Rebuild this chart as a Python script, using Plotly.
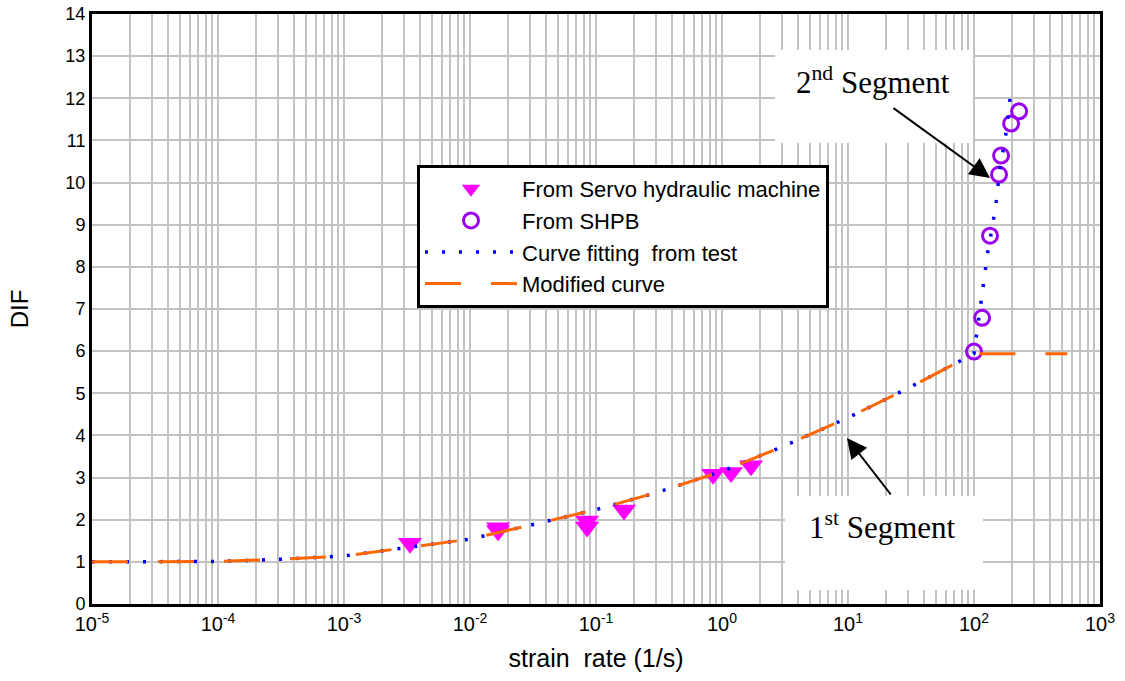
import plotly.graph_objects as go

# ---- data ----
servo_rate = [0.00334, 0.0167, 0.0167, 0.085, 0.085, 0.167, 0.85, 1.18, 1.70]
servo_dif = [1.44, 1.81, 1.74, 1.97, 1.83, 2.23, 3.08, 3.12, 3.28]

shpb_rate = [100, 116, 134, 158, 164, 197, 228]
shpb_dif = [5.99, 6.79, 8.74, 10.19, 10.64, 11.40, 11.69]

fit1_rate = [1e-5, 3e-5, 1e-4, 3e-4, 1e-3, 3e-3, 1e-2, 3e-2, 1e-1, 3e-1, 1, 3, 10, 30, 100]
fit1_dif = [1.00, 1.00, 1.01, 1.06, 1.14, 1.33, 1.54, 1.87, 2.24, 2.64, 3.15, 3.73, 4.42, 5.12, 5.94]

fit2_rate = [100, 110, 120, 130, 140, 150, 160, 170, 180, 190, 197]
fit2_dif = [5.94, 6.85, 7.65, 8.45, 8.95, 9.55, 10.3, 10.75, 11.2, 11.8, 12.2]

mod_flat_rate = [550]
mod_flat_dif = [5.94]

x_tickvals = [1e-5, 1e-4, 1e-3, 1e-2, 1e-1, 1e0, 1e1, 1e2, 1e3]
x_ticktext = ["10<sup>-5</sup>", "10<sup>-4</sup>", "10<sup>-3</sup>", "10<sup>-2</sup>",
              "10<sup>-1</sup>", "10<sup>0</sup>", "10<sup>1</sup>", "10<sup>2</sup>", "10<sup>3</sup>"]
y_tickvals = list(range(0, 15))

fit_rate = fit1_rate + fit2_rate[1:]
fit_dif = fit1_dif + fit2_dif[1:]
mod_rate = fit1_rate + mod_flat_rate
mod_dif = fit1_dif + mod_flat_dif

GRID = "#c3c3c3"
SANS = "Liberation Sans, Arial, sans-serif"
SERIF = "Liberation Serif, Times New Roman, serif"

fig = go.Figure()
fig.add_trace(go.Scatter(
    x=servo_rate, y=servo_dif, mode="markers", name="From Servo hydraulic machine",
    marker=dict(symbol="triangle-down", size=21, color="#ff00ff", line=dict(width=0))))
fig.add_trace(go.Scatter(
    x=shpb_rate, y=shpb_dif, mode="markers", name="From SHPB",
    marker=dict(symbol="circle-open", size=15, color="#9a00f0", line=dict(width=3, color="#9a00f0"))))
fig.add_trace(go.Scatter(
    x=fit_rate, y=fit_dif, mode="lines", name="Curve fitting  from test",
    line=dict(color="#0000ff", width=3.5, dash="3px,14px")))
fig.add_trace(go.Scatter(
    x=mod_rate, y=mod_dif, mode="lines", name="Modified curve",
    line=dict(color="#ff6600", width=3, dash="36px,30px")))

# plot frame spans x 92..1100, y 14..604 of the page
W, H = 1125, 681
L, R, T, B = 92, 25, 14, 77
pw, ph = W - L - R, H - T - B


def px(xp):
    return (xp - L) / pw


def py(yp):
    return (H - B - yp) / ph


# white boxes behind the segment labels (blank annotations)
for (x0, x1, y0, y1) in [(775, 973, 50, 143), (785, 983, 496, 590)]:
    fig.add_annotation(xref="paper", yref="paper", x=px((x0 + x1) / 2), y=py((y0 + y1) / 2),
                       xanchor="center", yanchor="middle",
                       text=" ", showarrow=False, width=x1 - x0, height=y1 - y0,
                       bgcolor="white", borderpad=0, borderwidth=0)

fig.add_annotation(xref="paper", yref="paper", x=px(873), y=py(80),
                   xanchor="center", yanchor="middle",
                   text="2<sup>nd</sup> Segment", showarrow=False,
                   font=dict(family=SERIF, size=31, color="black"))
fig.add_annotation(xref="paper", yref="paper", x=px(882), y=py(525),
                   xanchor="center", yanchor="middle",
                   text="1<sup>st</sup> Segment", showarrow=False,
                   font=dict(family=SERIF, size=31, color="black"))
fig.add_annotation(xref="paper", yref="paper", x=px(990), y=py(178), text="",
                   showarrow=True, ax=892 - 990, ay=107 - 178,
                   arrowhead=2, arrowsize=2, arrowwidth=2, arrowcolor="black")
fig.add_annotation(xref="paper", yref="paper", x=px(847), y=py(438), text="",
                   showarrow=True, ax=892 - 847, ay=496 - 438,
                   arrowhead=2, arrowsize=2, arrowwidth=2, arrowcolor="black")

fig.update_layout(
    width=W, height=H,
    margin=dict(l=L, r=R, t=T, b=B, autoexpand=False),
    paper_bgcolor="white", plot_bgcolor="white",
    showlegend=True,
    legend=dict(x=px(417), y=py(165), xanchor="left", yanchor="top",
                bgcolor="white", bordercolor="black", borderwidth=3,
                font=dict(family=SANS, size=22, color="black"),
                itemwidth=92, tracegroupgap=0),
    font=dict(family=SANS, color="black"),
)
fig.update_xaxes(
    type="log", range=[-5, 3], automargin=False,
    tickvals=x_tickvals, ticktext=x_ticktext,
    tickfont=dict(family=SANS, size=20, color="black"),
    showgrid=True, gridcolor=GRID, gridwidth=2,
    minor=dict(dtick="D1", showgrid=True, gridcolor=GRID, gridwidth=2, ticks=""),
    showline=True, linecolor="black", linewidth=3, mirror=True,
    ticks="", zeroline=False,
    title=dict(text="strain  rate (1/s)", font=dict(family=SANS, size=25, color="black"), standoff=16),
)
fig.update_yaxes(
    range=[0, 14], automargin=False,
    tickvals=y_tickvals,
    tickfont=dict(family=SANS, size=18, color="black"),
    showgrid=True, gridcolor=GRID, gridwidth=2,
    showline=True, linecolor="black", linewidth=3, mirror=True,
    ticks="", zeroline=False,
    title=dict(text="DIF", font=dict(family=SANS, size=24, color="black"), standoff=30),
)

fig.write_html("out.html",
               config={"displayModeBar": False},
               post_script="document.body.style.margin='0';document.body.style.overflow='hidden';")
